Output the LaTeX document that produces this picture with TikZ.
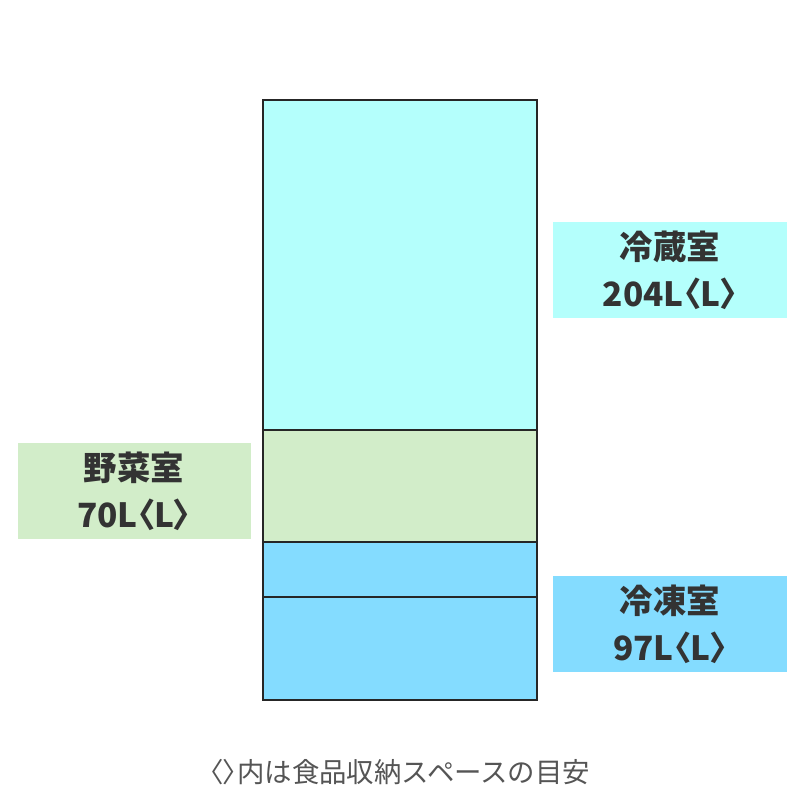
\documentclass[tikz,border=0pt]{standalone}
\usepackage{fontspec}
\newfontfamily\jpfont{Noto Sans CJK JP}
\newfontfamily\jpprop{Noto Sans CJK JP}[RawFeature=+palt]
\usetikzlibrary{positioning}

% Define colors
\definecolor{fridgecyan}{RGB}{180, 255, 252}
\definecolor{veggreen}{RGB}{210, 237, 201}
\definecolor{freezeblue}{RGB}{132, 220, 255}
\definecolor{textgray}{RGB}{51, 51, 51}
\definecolor{notegray}{RGB}{85, 85, 85}

% Narrow angle brackets
\newcommand{\lbrk}{{\jpprop 〈}}
\newcommand{\rbrk}{{\jpprop 〉}}

\begin{document}
\begin{tikzpicture}[x=0.02cm, y=-0.02cm,
  roomname/.style={font=\jpfont\fontsize{19}{19}\selectfont\bfseries, text=textgray, inner sep=0pt},
  roomsize/.style={font=\jpfont\fontsize{19}{19}\selectfont\bfseries, text=textgray, inner sep=0pt},
  divider/.style={line width=1.4pt, black!85}]

\useasboundingbox (0, 0) rectangle (800, 800);

% Fill the compartments
\fill[fridgecyan] (263, 100) rectangle (537, 430);
\fill[veggreen] (263, 430) rectangle (537, 542);
\fill[freezeblue] (263, 542) rectangle (537, 700);

% Draw the outline and dividers
\draw[divider] (263, 100) rectangle (537, 700);
\draw[divider] (263, 430) -- (537, 430);
\draw[divider] (263, 542) -- (537, 542);
\draw[divider] (263, 597) -- (537, 597);

% Draw the label boxes
\fill[fridgecyan] (553, 222) rectangle (787, 318);
\fill[veggreen] (18, 443) rectangle (251, 539);
\fill[freezeblue] (553, 576) rectangle (787, 672);

% Add labels for the rooms
\node[roomname] (fridge) at (670, 247) {冷蔵室};
\node[roomsize] (fridgeL) at (670, 294) {204L\lbrk L\rbrk};

\node[roomname] (veg) at (134, 468) {野菜室};
\node[roomsize] (vegL) at (134, 515) {70L\lbrk L\rbrk};

\node[roomname] (freezer) at (670, 601) {冷凍室};
\node[roomsize] (freezerL) at (670, 648) {97L\lbrk L\rbrk};

% Add the bottom note
\node[font=\jpfont\fontsize{15.6}{15.6}\selectfont, text=notegray, inner sep=0pt] (note) at (400, 772) {\lbrk\rbrk 内は食品収納スペースの目安};

\end{tikzpicture}
\end{document}
